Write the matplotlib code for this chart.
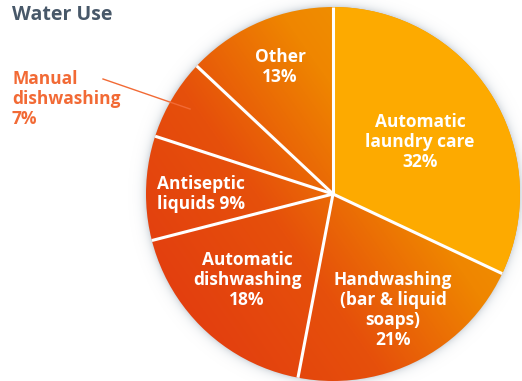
import numpy as np
import matplotlib
matplotlib.use("Agg")
import matplotlib.pyplot as plt
from matplotlib.patches import Circle
from matplotlib.colors import LinearSegmentedColormap, to_rgb

# Share of water use by product category (percent), clockwise from 12 o'clock
categories = ["Automatic\nlaundry care", "Handwashing\n(bar & liquid\nsoaps)",
              "Automatic\ndishwashing", "Antiseptic\nliquids", "Manual\ndishwashing", "Other"]
shares = [32, 21, 18, 9, 7, 13]
title = "Water Use"

W, H = 522, 381
fig = plt.figure(figsize=(W / 100, H / 100), dpi=100)
ax = fig.add_axes([0, 0, 1, 1])
ax.set_xlim(0, W)
ax.set_ylim(0, H)
ax.axis("off")

cx, cy, R = 333, 187, 187
font = ["Open Sans", "DejaVu Sans"]

# soft shadow around the disc
xx, yy = np.meshgrid(np.arange(W) + 0.5, np.arange(H) + 0.5)
rr = np.hypot(xx - cx, yy - cy)
shadow = np.zeros((H, W, 4))
shadow[..., :3] = to_rgb("#8796a4")
shadow[..., 3] = np.where(rr > R - 2, 0.6 * np.exp(-np.clip(rr - R + 2, 0, None) / 4.0), 0)
ax.imshow(shadow, extent=(0, W, 0, H), origin="lower", zorder=1, interpolation="bilinear")

# diagonal orange gradient filling the disc
ang = np.deg2rad(35)
proj = ((xx - cx) * np.cos(ang) + (yy - cy) * np.sin(ang)) / R
t = np.clip((proj + 1) / 2, 0, 1)
cmap = LinearSegmentedColormap.from_list("warm", ["#e33f0f", "#e6500b", "#ef8600", "#f29a00"], N=256)
grad = ax.imshow(t, extent=(0, W, 0, H), origin="lower", cmap=cmap, vmin=0, vmax=1,
                 zorder=2, interpolation="bilinear")
disc = Circle((cx, cy), R, transform=ax.transData)
grad.set_clip_path(disc)

# wedges: laundry care solid, the rest show the gradient
face = ["#fdaa00"] + ["none"] * (len(shares) - 1)
wedges, _ = ax.pie(shares, startangle=90, counterclock=False, center=(cx, cy), radius=R,
                   colors=face, wedgeprops=dict(linewidth=0), frame=True)
for w in wedges:
    w.set_zorder(3)
ax.set_xlim(0, W)
ax.set_ylim(0, H)
ax.set_aspect("auto")
ax.axis("off")

# white separators between slices
bounds = 90 - 360 * np.cumsum([0] + shares[:-1]) / sum(shares)
for b in bounds:
    a = np.deg2rad(b)
    ax.plot([cx, cx + R * np.cos(a)], [cy, cy + R * np.sin(a)], color="white",
            lw=2.2, solid_capstyle="butt", zorder=4)

# slice labels
label_pos = {0: (420, 142), 1: (393, 310), 2: (247, 280), 3: (201, 194), 5: (280, 67)}
for i, (x, y) in label_pos.items():
    if i == 3:
        txt = f"Antiseptic\nliquids {shares[i]}%"
    else:
        txt = f"{categories[i]}\n{shares[i]}%"
    ax.text(x, H - y, txt, ha="center", va="center", color="white", fontsize=12.5,
            fontweight="bold", family=font, linespacing=1.15, zorder=5)

# outside label for the small slice
ax.text(12, H - 99, f"{categories[4]}\n{shares[4]}%", ha="left", va="center",
        color="#f26a35", fontsize=12.5, fontweight="bold", family=font,
        linespacing=1.15, zorder=5)
ax.plot([103, 190], [H - 79, H - 109], color="#f26a35", lw=1.0, zorder=5)

ax.text(12, H - 15, title, ha="left", va="center", color="#485869", fontsize=14,
        fontweight="bold", family=font, zorder=5)

fig.savefig("out.png", dpi=100)
